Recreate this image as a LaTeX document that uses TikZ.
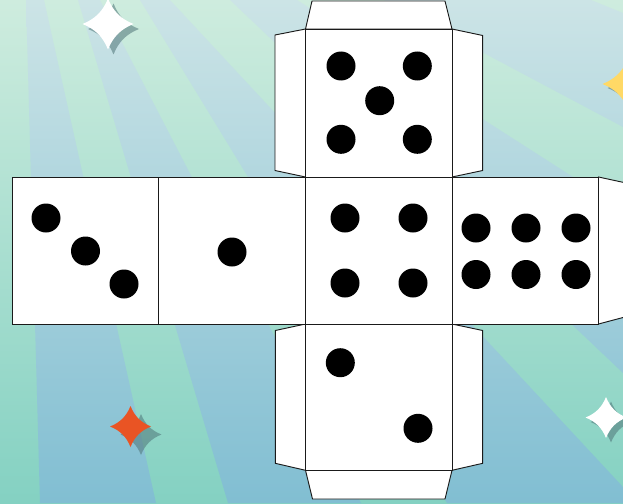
\documentclass[tikz,border=0pt]{standalone}
\definecolor{greenTop}{HTML}{CEECDE}
\definecolor{greenBot}{HTML}{84D1C2}
\definecolor{blueTop}{HTML}{CCE4E6}
\definecolor{blueBot}{HTML}{81BED2}
\definecolor{sparkYellow}{HTML}{FFD966}
\definecolor{sparkOrange}{HTML}{E95424}
\definecolor{shadowGrey}{HTML}{4F7578}
\definecolor{edgeInk}{HTML}{1A1A1A}
\tikzset{
  panel/.style={fill=white,draw=edgeInk,line width=.7pt,line join=miter},
  pip/.style={fill=black,draw=none},
  sparkshadow/.style={fill=shadowGrey,fill opacity=.55,draw=none},
}
% centre x, centre y, radius, style
\newcommand{\sparkle}[4]{%
  \fill[#4] (#1+#3,#2)
    .. controls (#1+.5*#3,#2-.2*#3) and (#1+.2*#3,#2-.5*#3) .. (#1,#2-#3)
    .. controls (#1-.2*#3,#2-.5*#3) and (#1-.5*#3,#2-.2*#3) .. (#1-#3,#2)
    .. controls (#1-.5*#3,#2+.2*#3) and (#1-.2*#3,#2+.5*#3) .. (#1,#2+#3)
    .. controls (#1+.2*#3,#2+.5*#3) and (#1+.5*#3,#2+.2*#3) .. (#1+#3,#2) -- cycle;}
\newcommand{\pips}[1]{\foreach \px/\py in {#1} {\fill[pip] (\px,\py) circle[radius=14.5];}}
\begin{document}
\begin{tikzpicture}[x=.75pt,y=-.75pt]
\useasboundingbox (0,0) rectangle (623,503);
\clip (0,0) rectangle (623,503);
% background
\shade[top color=greenTop,bottom color=greenBot] (0,0) rectangle (623,503);
\begin{scope}
  \clip (26,0) -- (44,0) -- (156,503) -- (40,503) -- cycle
        (78,0) -- (100,0) -- (361,503) -- (228,503) -- cycle
        (140,0) -- (170,0) -- (623,487) -- (623,503) -- (447,503) -- cycle
        (230,0) -- (297,0) -- (623,209) -- (623,373) -- cycle
        (384,0) -- (591,0) -- (623,13) -- (623,127) -- cycle;
  \shade[top color=blueTop,bottom color=blueBot] (0,0) rectangle (623,503);
\end{scope}
% sparkles
\sparkle{113.5}{29}{25.5}{sparkshadow}
\sparkle{108}{24}{25.5}{white}
\sparkle{141}{434.5}{20.5}{sparkshadow}
\sparkle{130.5}{426.5}{20.5}{sparkOrange}
\sparkle{611}{422}{20.5}{sparkshadow}
\sparkle{606}{417.5}{20.5}{white}
\sparkle{633}{88}{25.5}{sparkshadow}
\sparkle{628}{84}{25.5}{sparkYellow}
% tabs
\draw[panel] (305.5,29) -- (312,1) -- (445,1) -- (452,29) -- cycle;
\draw[panel] (305.5,470.3) -- (312.5,499) -- (445,499) -- (452,470.3) -- cycle;
\draw[panel] (305.5,29) -- (275,35) -- (275,170.5) -- (305.5,177) -- cycle;
\draw[panel] (452,29) -- (482.7,35.5) -- (482.7,170.5) -- (452,177) -- cycle;
\draw[panel] (305.5,324) -- (275.3,330.5) -- (275.3,463.3) -- (305.5,470.3) -- cycle;
\draw[panel] (452,324) -- (482.7,330.5) -- (482.7,463.3) -- (452,470.3) -- cycle;
\draw[panel] (598.5,177) -- (640,186) -- (640,313) -- (598.5,324) -- cycle;
% faces
\draw[panel] (305.5,29) rectangle (452,177);
\draw[panel] (305.5,324) rectangle (452,470.3);
\draw[panel] (12,177) rectangle (158.5,324);
\draw[panel] (158.5,177) rectangle (305.5,324);
\draw[panel] (305.5,177) rectangle (452,324);
\draw[panel] (452,177) rectangle (598.5,324);
% pips
\pips{341/66,417.3/66,379.7/100.7,341/139.3,417.3/139.3}
\pips{46/218,85.5/251,124/284}
\pips{232/252}
\pips{345/218,413/218,345/283,413/283}
\pips{476/228,526/228,576/228,476/274.5,526/274.5,576/274.5}
\pips{340.3/362.7,418/428.3}
\end{tikzpicture}
\end{document}
